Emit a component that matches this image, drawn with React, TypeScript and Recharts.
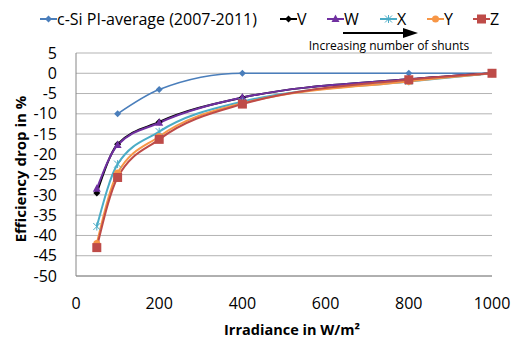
import { LineChart, Line, XAxis, YAxis, CartesianGrid, Label } from 'recharts'

const irradiance = [50, 100, 200, 400, 800, 1000]
const cSiAvg = [null, -10, -4, 0, 0, 0]
const moduleV = [-29.5, -17.5, -12, -6, -1.5, 0]
const moduleW = [-28.5, -17.7, -12.2, -6, -1.5, 0]
const moduleX = [-37.8, -22.4, -14.4, -7, -2, 0]
const moduleY = [-42, -24.6, -15.6, -7.4, -2, 0]
const moduleZ = [-43, -25.7, -16.3, -7.6, -1.6, 0]

const xTicks = [0, 200, 400, 600, 800, 1000]
const yTicks = [5, 0, -5, -10, -15, -20, -25, -30, -35, -40, -45, -50]

type Marker = 'diamond' | 'triangle' | 'star' | 'circle' | 'square'

const series: { key: string; name: string; color: string; marker: Marker; values: (number | null)[] }[] = [
  { key: 'csi', name: 'c-Si PI-average (2007-2011)', color: '#4a7ebb', marker: 'diamond', values: cSiAvg },
  { key: 'modV', name: 'V', color: '#000000', marker: 'diamond', values: moduleV },
  { key: 'modW', name: 'W', color: '#7030a0', marker: 'triangle', values: moduleW },
  { key: 'modX', name: 'X', color: '#4bacc6', marker: 'star', values: moduleX },
  { key: 'modY', name: 'Y', color: '#f79646', marker: 'circle', values: moduleY },
  { key: 'modZ', name: 'Z', color: '#be4b48', marker: 'square', values: moduleZ },
]

const rows = irradiance.map((g, i) => {
  const row: Record<string, number | null> = { irr: g }
  series.forEach((s) => (row[s.key] = s.values[i]))
  return row
})

function MarkerShape({ cx, cy, color, marker }: { cx: number; cy: number; color: string; marker: Marker }) {
  if (cx == null || cy == null) return null
  switch (marker) {
    case 'diamond':
      return <path d={`M${cx},${cy - 3.5}L${cx + 3.5},${cy}L${cx},${cy + 3.5}L${cx - 3.5},${cy}Z`} fill={color} />
    case 'triangle':
      return <path d={`M${cx},${cy - 4.5}L${cx + 4},${cy + 3}L${cx - 4},${cy + 3}Z`} fill={color} />
    case 'star':
      return (
        <g stroke={color} strokeWidth={1}>
          <line x1={cx - 3.5} y1={cy - 3.5} x2={cx + 3.5} y2={cy + 3.5} />
          <line x1={cx - 3.5} y1={cy + 3.5} x2={cx + 3.5} y2={cy - 3.5} />
          <line x1={cx} y1={cy - 4} x2={cx} y2={cy + 4} />
        </g>
      )
    case 'circle':
      return <circle cx={cx} cy={cy} r={3.5} fill={color} />
    default:
      return <rect x={cx - 4.5} y={cy - 4.5} width={9} height={9} fill={color} />
  }
}

function LegendRow() {
  const starts = [40, 280, 327, 380, 427, 473]
  return (
    <svg width={512} height={60} style={{ position: 'absolute', left: 0, top: 0 }}>
      {series.map((s, i) => (
        <g key={s.key}>
          <line x1={starts[i]} y1={19} x2={starts[i] + 17} y2={19} stroke={s.color} strokeWidth={2} />
          <MarkerShape cx={starts[i] + 8.5} cy={19} color={s.color} marker={s.marker} />
          <text x={starts[i] + 17} y={25} fontSize={16} fill="#000">
            {s.name}
          </text>
        </g>
      ))}
      <line x1={343} y1={33} x2={405} y2={33} stroke="#000" strokeWidth={2} />
      <path d="M403,28L418,33L403,38Z" fill="#000" />
      <text x={389} y={50} fontSize={12} textAnchor="middle" fill="#000">
        Increasing number of shunts
      </text>
    </svg>
  )
}

export default function App() {
  return (
    <div
      style={{
        position: 'absolute',
        left: 0,
        top: 0,
        width: 512,
        height: 340,
        background: '#fff',
        fontFamily: '"Open Sans", sans-serif',
      }}
    >
      <LineChart width={512} height={340} data={rows} margin={{ top: 53, right: 20, bottom: 0, left: 0 }}>
        <CartesianGrid vertical={false} stroke="#b3b3b3" />
        <XAxis
          dataKey="irr"
          type="number"
          domain={[0, 1000]}
          ticks={xTicks}
          tickLine={false}
          axisLine={{ stroke: '#868686' }}
          height={64}
          tickMargin={16}
          tick={{ fontSize: 16, fill: '#000' }}
        >
          <Label
            content={() => (
              <text x={292} y={335} fontSize={14.5} fontWeight="bold" textAnchor="middle" fill="#000">
                Irradiance in W/m²
              </text>
            )}
          />
        </XAxis>
        <YAxis
          type="number"
          domain={[-50, 5]}
          ticks={yTicks}
          interval={0}
          width={76}
          tickLine={false}
          axisLine={{ stroke: '#868686' }}
          tickMargin={13}
          tick={{ fontSize: 16, fill: '#000' }}
        >
          <Label
            content={() => (
              <text
                x={26}
                y={169}
                transform="rotate(-90 26 169)"
                fontSize={15}
                fontWeight="bold"
                textAnchor="middle"
                fill="#000"
              >
                Efficiency drop in %
              </text>
            )}
          />
        </YAxis>
        {series.map((s) => (
          <Line
            key={s.key}
            dataKey={s.key}
            name={s.name}
            type="monotone"
            stroke={s.color}
            strokeWidth={s.key === 'csi' ? 1.5 : 2}
            isAnimationActive={false}
            connectNulls={false}
            dot={(p: any) => <MarkerShape key={`${s.key}-${p.index}`} cx={p.cx} cy={p.cy} color={s.color} marker={s.marker} />}
            activeDot={false}
          />
        ))}
      </LineChart>
      <LegendRow />
    </div>
  )
}
